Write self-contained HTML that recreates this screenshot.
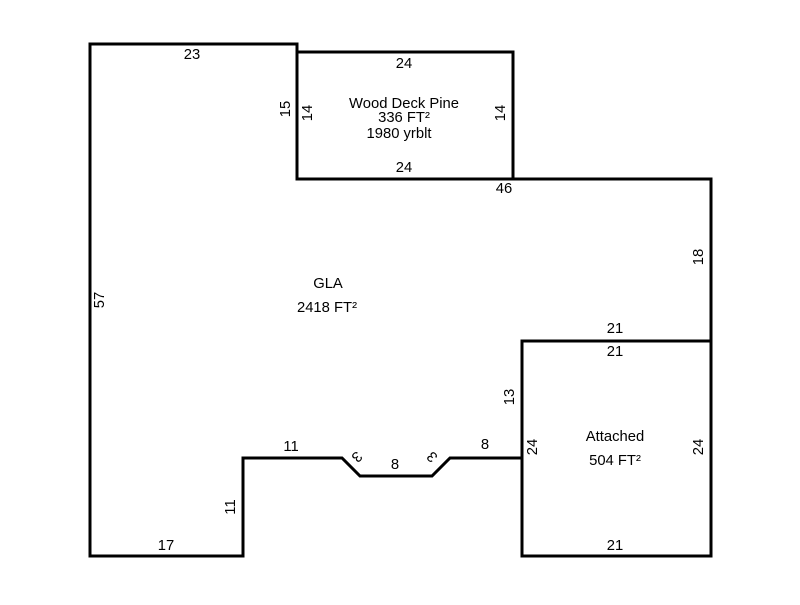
<!DOCTYPE html>
<html><head><style>body{margin:0;background:#fff}</style></head><body>
<svg width="800" height="600" xmlns="http://www.w3.org/2000/svg" font-family="Liberation Sans, Arial, sans-serif" font-size="14.8" fill="#000">
<rect width="800" height="600" fill="#fff"/>
<g fill="none" stroke="#000" stroke-width="3">
<polygon points="90,44 297,44 297,179 711,179 711,341 522,341 522,458 450,458 432,476 360,476 342,458 243,458 243,556 90,556"/>
<rect x="297" y="52" width="216" height="127"/>
<rect x="522" y="341" width="189" height="215"/>
</g>
<g text-anchor="middle">
<text x="192" y="59">23</text>
<text x="404" y="68">24</text>
<text x="404" y="172">24</text>
<text x="504" y="193">46</text>
<text x="404" y="108">Wood Deck Pine</text>
<text x="404" y="122">336 FT²</text>
<text x="399" y="138">1980 yrblt</text>
<text x="328" y="288">GLA</text>
<text x="327" y="312">2418 FT²</text>
<text x="615" y="333">21</text>
<text x="615" y="356">21</text>
<text x="615" y="441">Attached</text>
<text x="615" y="465">504 FT²</text>
<text x="615" y="550">21</text>
<text x="291" y="451">11</text>
<text x="485" y="449">8</text>
<text x="395" y="469">8</text>
<text x="166" y="550">17</text>
<text transform="translate(290,109) rotate(-90)">15</text>
<text transform="translate(312,113) rotate(-90)">14</text>
<text transform="translate(505,113) rotate(-90)">14</text>
<text transform="translate(703,257) rotate(-90)">18</text>
<text transform="translate(104,300) rotate(-90)">57</text>
<text transform="translate(514,397) rotate(-90)">13</text>
<text transform="translate(537,447) rotate(-90)">24</text>
<text transform="translate(703,447) rotate(-90)">24</text>
<text transform="translate(235,507) rotate(-90)">11</text>
<text transform="translate(357,457) rotate(135)" dy="5">3</text>
<text transform="translate(432,457) rotate(-135)" dy="5">3</text>
</g>
</svg>
</body></html>
